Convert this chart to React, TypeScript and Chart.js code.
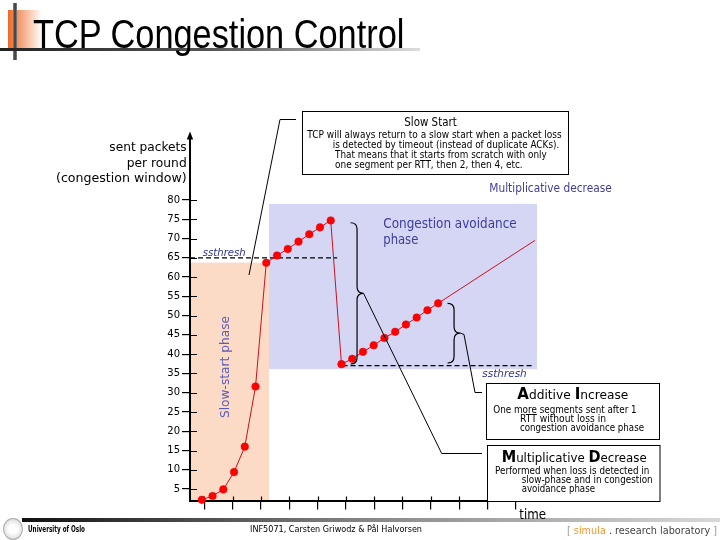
import React, { useEffect, useRef } from 'react';
import { Chart, registerables } from 'chart.js';

Chart.register(...registerables);

// ---------- data ----------
const rounds = [1, 2, 3, 4, 5, 6, 7, 8, 9, 10, 11, 12, 13, 14, 15, 16, 17, 18, 19, 20, 21, 22, 23];
const cwnd = [2.2, 3.2, 4.9, 9.4, 16, 31.6, 63.7, 65.6, 67.3, 69.2, 71.1, 72.9, 74.7, 37.4, 38.8, 40.6, 42.3, 44.2, 45.8, 47.7, 49.5, 51.4, 53.2];
const trendRounds = [23, 32];
const trendCwnd = [53.2, 69.5];
const ssthreshLevels = [65, 37];
const ssthreshFrom = [-0.1, 14.1];
const ssthreshTo = [13.6, 31.8];
const phaseFrom = [-0.1, 7.26];
const phaseTo = [7.26, 32.2];
const phaseLow = [2, 36.1];
const phaseHigh = [63.75, 79.0];
const braceRound = [15.45, 24.48];
const braceTop = [74.1, 53.2];
const braceBottom = [37.45, 37.7];
const yTickValues = [5, 10, 15, 20, 25, 30, 35, 40, 45, 50, 55, 60, 65, 70, 75, 80];
const xTickValues = [1.23, 3.88, 6.51, 9.15, 11.79, 14.43, 17.06, 19.67, 22.34, 24.97, 27.62, 30.23];

const FONT = '"DejaVu Sans", Verdana, sans-serif';
const NAVY = '#3D3D99';

type Run = { t: string; size: number; bold?: boolean; italic?: boolean; color?: string; family?: string };
const fontOf = (r: Run) => `${r.italic ? 'italic ' : ''}${r.bold ? 'bold ' : ''}${r.size}px ${r.family || FONT}`;

function drawRuns(ctx: CanvasRenderingContext2D, runs: Run[], x: number, y: number, width?: number, color = '#000', center = false) {
  ctx.save();
  let nat = 0;
  for (const r of runs) { ctx.font = fontOf(r); nat += ctx.measureText(r.t).width; }
  const w = width || nat;
  const sx = w / nat;
  ctx.translate(center ? x - w / 2 : x, y);
  ctx.scale(sx, 1);
  ctx.textBaseline = 'alphabetic';
  ctx.textAlign = 'left';
  let cx = 0;
  for (const r of runs) {
    ctx.font = fontOf(r);
    ctx.fillStyle = r.color || color;
    ctx.fillText(r.t, cx, 0);
    cx += ctx.measureText(r.t).width;
  }
  ctx.restore();
}

function brace(ctx: CanvasRenderingContext2D, x: number, top: number, bottom: number, w: number) {
  const mid = (top + bottom) / 2;
  ctx.beginPath();
  ctx.moveTo(x - w, top);
  ctx.quadraticCurveTo(x, top, x, top + w);
  ctx.lineTo(x, mid - w);
  ctx.quadraticCurveTo(x, mid, x + w, mid);
  ctx.quadraticCurveTo(x, mid, x, mid + w);
  ctx.lineTo(x, bottom - w);
  ctx.quadraticCurveTo(x, bottom, x - w, bottom);
  ctx.stroke();
}

const slidePlugin = {
  id: 'slideDecor',
  beforeDraw(chart: any) {
    const ctx = chart.ctx as CanvasRenderingContext2D;
    const xs = chart.scales.x, ys = chart.scales.y;
    const colors = ['#FBDAC6', '#D4D6F3'];
    ctx.save();
    for (let i = 0; i < phaseFrom.length; i++) {
      const x1 = xs.getPixelForValue(phaseFrom[i]);
      const x2 = xs.getPixelForValue(phaseTo[i]);
      const y1 = ys.getPixelForValue(phaseHigh[i]);
      const y2 = ys.getPixelForValue(phaseLow[i]);
      ctx.fillStyle = colors[i];
      ctx.fillRect(x1, y1, x2 - x1, y2 - y1);
    }
    ctx.restore();
  },
  beforeDatasetsDraw(chart: any) {
    const ctx = chart.ctx as CanvasRenderingContext2D;
    const xs = chart.scales.x, ys = chart.scales.y;
    const ca = chart.chartArea;
    ctx.save();
    ctx.strokeStyle = '#000';
    ctx.lineWidth = 1.2;
    ctx.beginPath();
    for (const v of yTickValues) {
      const y = Math.round(ys.getPixelForValue(v)) + 0.5;
      ctx.moveTo(ca.left, y); ctx.lineTo(ca.left + 7, y);
    }
    for (const v of xTickValues) {
      const x = Math.round(xs.getPixelForValue(v)) + 0.5;
      ctx.moveTo(x, ca.bottom); ctx.lineTo(x, ca.bottom - 4);
    }
    ctx.stroke();
    ctx.restore();
  },
  afterDraw(chart: any) {
    const ctx = chart.ctx as CanvasRenderingContext2D;
    const xs = chart.scales.x, ys = chart.scales.y;
    const ca = chart.chartArea;
    const px = (v: number) => xs.getPixelForValue(v);
    const py = (v: number) => ys.getPixelForValue(v);
    ctx.save();
    // y axis extension with arrow
    ctx.strokeStyle = '#000';
    ctx.fillStyle = '#000';
    ctx.lineWidth = 2;
    ctx.beginPath(); ctx.moveTo(ca.left, ca.top); ctx.lineTo(ca.left, 138); ctx.stroke();
    ctx.beginPath(); ctx.moveTo(ca.left, 131.5); ctx.lineTo(ca.left - 3.2, 139.5); ctx.lineTo(ca.left + 3.2, 139.5); ctx.closePath(); ctx.fill();

    // braces
    ctx.lineWidth = 1.2;
    const tips: [number, number][] = [];
    for (let i = 0; i < braceRound.length; i++) {
      const x = px(braceRound[i]);
      const t = py(braceTop[i]);
      const b = py(braceBottom[i]);
      const w = 6.5;
      brace(ctx, x, t, b, w);
      tips.push([x + w, (t + b) / 2]);
    }
    // connectors
    ctx.lineWidth = 1;
    ctx.beginPath();
    ctx.moveTo(296, 119.5); ctx.lineTo(280, 119.5); ctx.lineTo(249, 275);
    ctx.moveTo(tips[0][0], tips[0][1]); ctx.lineTo(441.7, 453.5); ctx.lineTo(482, 453.5);
    ctx.moveTo(tips[1][0], tips[1][1]); ctx.lineTo(464, 334.5); ctx.lineTo(475, 392.5); ctx.lineTo(482, 392.5);
    ctx.stroke();

    // boxes
    const boxes = [[302.5, 111.5, 266, 63], [486.5, 383.5, 173, 56], [487.5, 445.5, 172.5, 56]];
    for (const [bx, by, bw, bh] of boxes) {
      ctx.fillStyle = '#fff';
      ctx.fillRect(bx, by, bw, bh);
      ctx.strokeStyle = '#000';
      ctx.lineWidth = 1;
      ctx.strokeRect(bx, by, bw, bh);
    }

    // axis title
    drawRuns(ctx, [{ t: 'sent packets', size: 13 }], 186.7 - 77.4, 151, 77.4);
    drawRuns(ctx, [{ t: 'per round', size: 13 }], 186.7 - 60, 166.5, 60);
    drawRuns(ctx, [{ t: '(congestion window)', size: 13 }], 56, 182, 130.7);

    // slow start box
    drawRuns(ctx, [{ t: 'Slow Start', size: 13 }], 404.3, 125.7, 52.4);
    drawRuns(ctx, [{ t: 'TCP will always return to a slow start when a packet loss', size: 10 }], 307.3, 138.3, 254.4);
    drawRuns(ctx, [{ t: 'is detected by timeout (instead of duplicate ACKs).', size: 10 }], 332.7, 148.3, 226.6);
    drawRuns(ctx, [{ t: 'That means that it starts from scratch with only', size: 10 }], 335, 158.3, 211.7);
    drawRuns(ctx, [{ t: 'one segment per RTT, then 2, then 4, etc.', size: 10 }], 335, 168.3, 187.7);

    drawRuns(ctx, [{ t: 'Multiplicative decrease', size: 12 }], 489.3, 191.7, 122.4, NAVY);

    // ssthresh labels
    drawRuns(ctx, [{ t: 'ssthresh', size: 11, italic: true }], 202.7, 256, 43, '#2F3590');
    drawRuns(ctx, [{ t: 'ssthresh', size: 11, italic: true }], 482.3, 376.5, 44.4, '#2F3590');

    // phases
    drawRuns(ctx, [{ t: 'Congestion avoidance', size: 14 }], 383.3, 228.3, 133.4, NAVY);
    drawRuns(ctx, [{ t: 'phase', size: 14 }], 383.3, 244.3, 35, NAVY);
    ctx.save();
    ctx.translate(229, 367);
    ctx.rotate(-Math.PI / 2);
    drawRuns(ctx, [{ t: 'Slow-start phase', size: 13 }], 0, 0, 102, '#5B5BB5', true);
    ctx.restore();

    // additive increase box
    drawRuns(ctx, [
      { t: 'A', size: 16, bold: true }, { t: 'dditive ', size: 13 },
      { t: 'I', size: 16, bold: true }, { t: 'ncrease', size: 13 },
    ], 517.3, 399.3, 111);
    drawRuns(ctx, [{ t: 'One more segments sent after 1', size: 10 }], 493.3, 413.3, 143.4);
    drawRuns(ctx, [{ t: 'RTT without loss in', size: 10 }], 520, 421.7, 86);
    drawRuns(ctx, [{ t: 'congestion avoidance phase', size: 10 }], 520, 431, 124);

    // multiplicative decrease box
    drawRuns(ctx, [
      { t: 'M', size: 16, bold: true }, { t: 'ultiplicative ', size: 13 },
      { t: 'D', size: 16, bold: true }, { t: 'ecrease', size: 13 },
    ], 501.7, 461.7, 145);
    drawRuns(ctx, [{ t: 'Performed when loss is detected in', size: 10 }], 495, 474.3, 154.3);
    drawRuns(ctx, [{ t: 'slow-phase and in congestion', size: 10 }], 521.7, 483.3, 131);
    drawRuns(ctx, [{ t: 'avoidance phase', size: 10 }], 521.7, 491.7, 73.3);

    drawRuns(ctx, [{ t: 'time', size: 14 }], 519.3, 518.5, 26.7);
    ctx.restore();
  },
};

// ---------- HTML text helper ----------
let mctx: CanvasRenderingContext2D | null = null;
function measure(runs: Run[]) {
  if (!mctx) mctx = document.createElement('canvas').getContext('2d');
  let w = 0;
  for (const r of runs) { mctx!.font = fontOf(r); w += mctx!.measureText(r.t).width; }
  return w;
}

function HText({ runs, x, base, width }: { runs: Run[]; x: number; base: number; width: number }) {
  const size = runs[0].size;
  const nat = measure(runs);
  const sx = width / nat;
  return (
    <div style={{
      position: 'absolute', left: x, top: base - 0.846 * size, whiteSpace: 'nowrap',
      fontSize: size, lineHeight: `${size}px`, fontFamily: runs[0].family || FONT,
      transform: `scaleX(${sx})`, transformOrigin: 'left top',
    }}>
      {runs.map((r, i) => (
        <span key={i} style={{ fontFamily: r.family || FONT, fontWeight: r.bold ? 'bold' : 'normal', fontStyle: r.italic ? 'italic' : 'normal', color: r.color || '#000', fontSize: r.size }}>{r.t}</span>
      ))}
    </div>
  );
}

export default function App() {
  const ref = useRef<HTMLCanvasElement>(null);
  useEffect(() => {
    if (!ref.current) return;
    const chart = new Chart(ref.current, {
      type: 'line',
      data: {
        datasets: [
          {
            label: 'congestion window',
            data: rounds.map((r, i) => ({ x: r, y: cwnd[i] })),
            borderColor: '#CC1122',
            borderWidth: 1,
            pointRadius: 3.8,
            pointBackgroundColor: '#FF0000',
            pointBorderColor: '#F00000',
            pointBorderWidth: 0.5,
            tension: 0,
            clip: false as any,
          },
          {
            label: 'trend',
            data: trendRounds.map((r, i) => ({ x: r, y: trendCwnd[i] })),
            borderColor: '#CC1122',
            borderWidth: 1,
            pointRadius: 0,
            clip: false as any,
          },
          ...ssthreshLevels.map((lvl, i) => ({
            label: 'ssthresh ' + (i + 1),
            data: [{ x: ssthreshFrom[i], y: lvl }, { x: ssthreshTo[i], y: lvl }],
            borderColor: '#000',
            borderWidth: 1.2,
            borderDash: [5, 3],
            pointRadius: 0,
            clip: false as any,
          })),
        ],
      },
      options: {
        responsive: false,
        animation: false,
        devicePixelRatio: 1,
        layout: { padding: { left: 150, right: 183, top: 200, bottom: 27.4 } },
        plugins: { legend: { display: false }, tooltip: { enabled: false }, title: { display: false } },
        scales: {
          x: {
            type: 'linear',
            min: -0.1,
            max: 32.2,
            afterBuildTicks: (s: any) => { s.ticks = xTickValues.map((v) => ({ value: v })); },
            afterFit: (s: any) => { s.height = 12; },
            ticks: { display: false },
            grid: { drawOnChartArea: false, drawTicks: true, tickLength: 9, color: '#000', lineWidth: 1.2 },
            border: { display: true, color: '#000', width: 2 },
          },
          y: {
            type: 'linear',
            min: 2,
            max: 80,
            afterBuildTicks: (s: any) => { s.ticks = yTickValues.map((v) => ({ value: v })); },
            afterFit: (s: any) => { s.width = 40; },
            ticks: { color: '#000', font: { family: FONT, size: 10 }, padding: 2 },
            grid: { drawOnChartArea: false, drawTicks: true, tickLength: 8, color: '#000', lineWidth: 1.2 },
            border: { display: true, color: '#000', width: 2 },
          },
        },
      } as any,
      plugins: [slidePlugin],
    });
    return () => chart.destroy();
  }, []);

  return (
    <div style={{ position: 'fixed', left: 0, top: 0, width: 720, height: 540, background: '#fff', overflow: 'hidden' }}>
      {/* title decorations */}
      <div style={{ position: 'absolute', left: 8, top: 10, width: 34, height: 38, background: 'linear-gradient(to right, #EE6A28, rgba(255,255,255,0))' }} />
      <div style={{ position: 'absolute', left: 13, top: 3, width: 4, height: 57, background: 'linear-gradient(to right, #888, #333, #888)' }} />
      <div style={{ position: 'absolute', left: 0, top: 48, width: 420, height: 3, background: 'linear-gradient(to right, #222, #555 50%, #ddd)' }} />
      {/* footer bar */}
      <div style={{ position: 'absolute', left: 22, top: 518, width: 698, height: 4, background: 'linear-gradient(to right, #111, #888 50%, #d8d8d8)' }} />
      <div style={{ position: 'absolute', left: 3, top: 518, width: 18, height: 20, borderRadius: '50%', border: '1px solid #aaa', background: 'radial-gradient(circle, #fff 30%, #ccc 100%)' }} />
      <canvas ref={ref} width={720} height={540} style={{ position: 'absolute', left: 0, top: 0, width: 720, height: 540 }} />
      <HText runs={[{ t: 'TCP Congestion Control', size: 40, family: '"Liberation Sans", Arial, sans-serif' }]} x={33} base={47.7} width={372} />
      <HText runs={[{ t: 'University of Oslo', size: 9, bold: true }]} x={28} base={533} width={57} />
      <HText runs={[{ t: 'INF5071, Carsten Griwodz & Pål Halvorsen', size: 9 }]} x={250} base={533} width={172} />
      <HText runs={[
        { t: '[ ', size: 11, color: '#999' },
        { t: 'simula', size: 11, color: '#F0982E' },
        { t: ' . research laboratory ', size: 11, color: '#444' },
        { t: ']', size: 11, color: '#999' },
      ]} x={567.3} base={534} width={150} />
    </div>
  );
}
